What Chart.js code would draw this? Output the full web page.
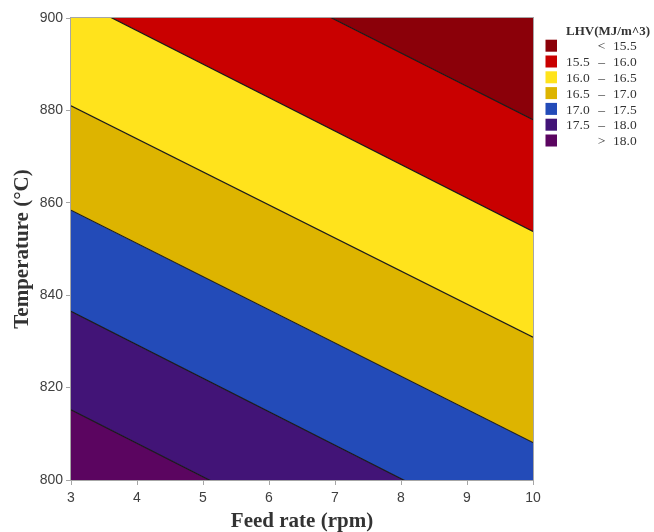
<!DOCTYPE html>
<html>
<head>
<meta charset="utf-8">
<script src="https://cdn.jsdelivr.net/npm/chart.js@4"></script>
<style>
  html, body { margin: 0; padding: 0; background: #ffffff; }
  #wrap { width: 654px; height: 532px; }
</style>
</head>
<body>
<div id="wrap"><canvas id="c" width="654" height="532"></canvas></div>
<script>
// Contour levels of LHV (MJ/m^3), upper-left to lower-right
const levels = [15.5, 16.0, 16.5, 17.0, 17.5, 18.0];
// Feed rate (rpm) at the two ends of each contour line
const feedRateEnds = [3, 10];
// Temperature (°C) where each contour crosses feed rate 3 and feed rate 10
const tempAtFeedLow  = [928.5, 904.5, 881.0, 858.4, 836.5, 815.2];
const tempAtFeedHigh = [878.0, 853.8, 830.9, 808.1, 785.8, 764.4];
// Band colours: < 15.5, 15.5-16.0, ..., > 18.0
const bandColors = ['#8b0009', '#c90000', '#ffe31c', '#ddb400', '#234bb8', '#421477', '#5b0560'];
// Axis ticks
const feedTicks = [3, 4, 5, 6, 7, 8, 9, 10];
const tempTicks = [800, 820, 840, 860, 880, 900];

const fmt = v => v.toFixed(1);

function contourPoints(i) {
  return [
    { x: feedRateEnds[0], y: tempAtFeedLow[i] },
    { x: feedRateEnds[1], y: tempAtFeedHigh[i] }
  ];
}

const datasets = levels.map((lv, i) => ({
  label: String(lv),
  data: contourPoints(i),
  showLine: true,
  borderColor: '#1a1a1a',
  borderWidth: 1.2,
  pointRadius: 0,
  backgroundColor: bandColors[i],
  fill: i === 0 ? 'end' : '-1',
  clip: 0
}));
// lowest band, below the last contour
datasets.push({
  label: '> ' + fmt(levels[levels.length - 1]),
  data: contourPoints(levels.length - 1),
  showLine: true,
  borderWidth: 0,
  borderColor: 'rgba(0,0,0,0)',
  pointRadius: 0,
  backgroundColor: bandColors[levels.length],
  fill: 'start',
  clip: 0
});

// Frame round the plotting area
const framePlugin = {
  id: 'frame',
  afterDatasetsDraw(chart) {
    const { ctx, chartArea: a } = chart;
    ctx.save();
    ctx.strokeStyle = '#a6a6a6';
    ctx.lineWidth = 1;
    ctx.strokeRect(Math.round(a.left) - 0.5, Math.round(a.top) - 0.5,
                   Math.round(a.right - a.left) + 1, Math.round(a.bottom - a.top) + 1);
    ctx.restore();
  }
};

// Legend with aligned range columns
const bandLegend = {
  id: 'bandLegend',
  afterDraw(chart) {
    const { ctx } = chart;
    const boxX = 545.5, leftX = 566, dashX = 601.5, rightX = 613;
    const top = 45.7, step = 15.8;
    ctx.save();
    ctx.fillStyle = '#333333';
    ctx.font = 'bold 13px "Liberation Serif"';
    ctx.textBaseline = 'alphabetic';
    ctx.textAlign = 'left';
    ctx.fillText('LHV(MJ/m^3)', leftX, 35);
    ctx.font = '13.5px "Liberation Serif"';
    for (let i = 0; i <= levels.length; i++) {
      const cy = top + step * i;
      ctx.fillStyle = bandColors[i];
      ctx.fillRect(boxX, cy - 6, 11.5, 12);
      ctx.fillStyle = '#333333';
      let lo = '', mid = '', hi = '';
      if (i === 0) { mid = '<'; hi = fmt(levels[0]); }
      else if (i === levels.length) { mid = '>'; hi = fmt(levels[levels.length - 1]); }
      else { lo = fmt(levels[i - 1]); mid = '\u2013'; hi = fmt(levels[i]); }
      const by = cy + 4.6;
      ctx.textAlign = 'left';
      if (lo) ctx.fillText(lo, leftX, by);
      ctx.textAlign = 'center';
      ctx.fillText(mid, dashX, by);
      ctx.textAlign = 'left';
      ctx.fillText(hi, rightX, by);
    }
    ctx.restore();
  }
};

const axisGray = '#a6a6a6';
const tickFont = { family: '"Liberation Sans", Arial, sans-serif', size: 14 };
const titleFont = { family: '"Liberation Serif", "Times New Roman", serif', size: 21, weight: 'bold', lineHeight: 1 };

new Chart(document.getElementById('c'), {
  type: 'scatter',
  data: { datasets },
  options: {
    responsive: false,
    animation: false,
    layout: { padding: { top: 18, right: 121, left: 0, bottom: 0 } },
    plugins: {
      legend: { display: false },
      tooltip: { enabled: false },
      filler: { drawTime: 'beforeDatasetsDraw', propagate: false }
    },
    scales: {
      x: {
        type: 'linear',
        min: feedTicks[0],
        max: feedTicks[feedTicks.length - 1],
        afterBuildTicks: s => { s.ticks = feedTicks.map(v => ({ value: v })); },
        afterFit: s => { s.height = 52; },
        ticks: { color: '#404040', font: tickFont, padding: 5, maxRotation: 0 },
        grid: { display: true, drawOnChartArea: false, drawTicks: true, tickLength: 5, color: axisGray },
        border: { display: true, color: axisGray },
        title: { display: true, text: 'Feed rate (rpm)', color: '#333333', font: titleFont, padding: { top: 0, bottom: 0 } }
      },
      y: {
        type: 'linear',
        min: tempTicks[0],
        max: tempTicks[tempTicks.length - 1],
        afterBuildTicks: s => { s.ticks = tempTicks.map(v => ({ value: v })); },
        afterFit: s => { s.width = 71; },
        ticks: { color: '#404040', font: tickFont, padding: 3 },
        grid: { display: true, drawOnChartArea: false, drawTicks: true, tickLength: 5, color: axisGray },
        border: { display: true, color: axisGray },
        title: { display: true, text: 'Temperature (\u00b0C)', color: '#333333', font: titleFont, padding: { top: 12, bottom: 0 } }
      }
    }
  },
  plugins: [framePlugin, bandLegend]
});
</script>
</body>
</html>
